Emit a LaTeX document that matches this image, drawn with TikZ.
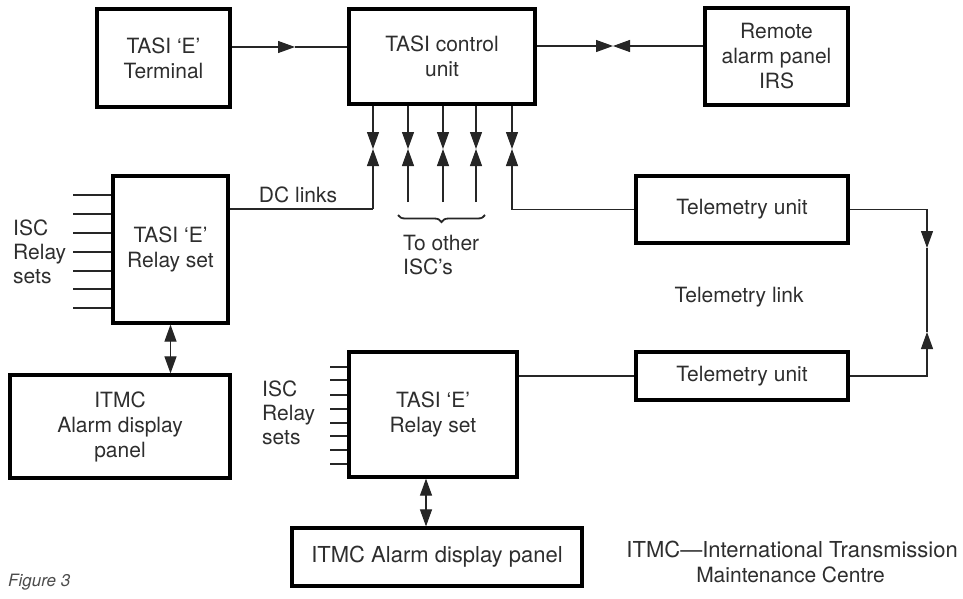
\documentclass[tikz,border=0pt]{standalone}
\usepackage{fontspec}
\setmainfont{TeX Gyre Heros}
\usetikzlibrary{arrows.meta,decorations.pathreplacing}
\begin{document}
\begin{tikzpicture}[x=1pt,y=-1pt,
  blk/.style={draw=black, line width=3.2pt, fill=white, text=black!82, align=center,
              font=\fontsize{21}{25}\selectfont, inner sep=0pt},
  wire/.style={line width=1.1pt, draw=black!85},
  tip/.style={-{Triangle[length=17pt,width=12pt]}},
  both/.style={{Triangle[length=17pt,width=12pt]}-{Triangle[length=17pt,width=12pt]}},
  lbl/.style={text=black!82, font=\fontsize{21}{24}\selectfont, inner sep=0pt}
]
\useasboundingbox (0,0) rectangle (963,598);
\fill[white] (0,0) rectangle (963,598);

% ---- blocks ----
\node[blk, minimum width=133pt, minimum height=98pt]  (term)   at (163.5,58)  {TASI ‘E’\\Terminal};
\node[blk, minimum width=186pt, minimum height=95pt]  (ctrl)   at (442,56.5)  {TASI control\\unit};
\node[blk, minimum width=143pt, minimum height=97pt]  (remote) at (776.5,56.5) {Remote\\alarm panel\\IRS};
\node[blk, minimum width=115pt, minimum height=147pt] (relay1) at (170.5,249.5) {TASI ‘E’\\Relay set};
\node[blk, minimum width=220pt, minimum height=103pt] (itmc1)  at (120,426.5) {ITMC\\Alarm display\\panel};
\node[blk, minimum width=212pt, minimum height=67pt]  (tu1)    at (742,209.5) {Telemetry unit};
\node[blk, minimum width=212pt, minimum height=48pt]  (tu2)    at (742,376)   {Telemetry unit};
\node[blk, minimum width=168pt, minimum height=125pt] (relay2) at (433,414.5) {TASI ‘E’\\Relay set};
\node[blk, minimum width=290pt, minimum height=58pt, font=\fontsize{22}{25}\selectfont]
      (itmc2)  at (437,557) {ITMC Alarm display panel};

% ---- top row links ----
\coordinate (tA) at (295,47);
\draw[wire,tip] (term.east |- tA) -- (tA);
\draw[wire] (tA) -- (ctrl.west |- tA);
\coordinate (bw) at (613,46);
\draw[wire,tip] (ctrl.east |- bw) -- (bw);
\draw[wire,tip] (remote.west |- bw) -- (bw);

% ---- DC links from the control unit ----
\foreach \n/\x in {1/373,2/408,3/443,4/476,5/512}{
  \coordinate (m\n) at (\x,149);
  \draw[wire,tip] (ctrl.south -| m\n) -- (m\n);
}
\coordinate (dcj) at (373,209);
\draw[wire] (relay1.east |- dcj) -- (dcj);
\draw[wire,tip] (dcj) -- (m1);
\foreach \n/\x in {2/408,3/443,4/476}{
  \coordinate (e\n) at (\x,202);
  \draw[wire,tip] (e\n) -- (m\n);
}
\draw[wire,tip] (tu1.west) -| (m5);

% ---- telemetry link ----
\coordinate (ta) at (927,248);
\coordinate (tb) at (927,332);
\draw[wire,tip] (tu1.east) -| (ta);
\draw[wire,tip] (tu2.east) -| (tb);
\draw[wire] (ta) -- (tb);
\draw[wire] (relay2.east |- tu2.west) -- (tu2.west);

% ---- relay sets to alarm panels ----
\draw[wire,both] (relay1.south) -- (itmc1.north -| relay1.south);
\coordinate (ax2) at (426,0);
\draw[wire,both] (relay2.south -| ax2) -- (itmc2.north -| ax2);

% ---- ISC relay set stubs ----
\foreach \y in {195,214,233,252,271,289,308}
  \draw[wire] (73,\y) -- (relay1.west |- 0,\y);
\foreach \y in {367,380,395,409,423,436,450,464}
  \draw[wire] (330,\y) -- (relay2.west |- 0,\y);

% ---- labels ----
\node[lbl, align=left, anchor=west] (isc1) at (13,252) {ISC\\Relay\\sets};
\node[lbl, align=left, anchor=west] (isc2) at (262,413) {ISC\\Relay\\sets};
\node[lbl] (dc) at (298,195) {DC links};
\node[lbl, align=left, anchor=west] (oth) at (403,255) {To other\\ISC’s};
\draw[decorate, decoration={brace, amplitude=7pt, mirror}, line width=1.8pt, draw=black!85]
  (398,215) -- (485,215);
\node[lbl] (tlink) at (739,297) {Telemetry link};
\node[lbl, anchor=east, font=\fontsize{22}{25}\selectfont] (note1) at (958,549) {ITMC—International Transmission};
\node[lbl, anchor=east] (note2) at (885,575) {Maintenance Centre};
\node[lbl, anchor=west, font=\itshape\fontsize{17}{20}\selectfont, text=black!70] (fig) at (8,582) {Figure 3};
\end{tikzpicture}
\end{document}
